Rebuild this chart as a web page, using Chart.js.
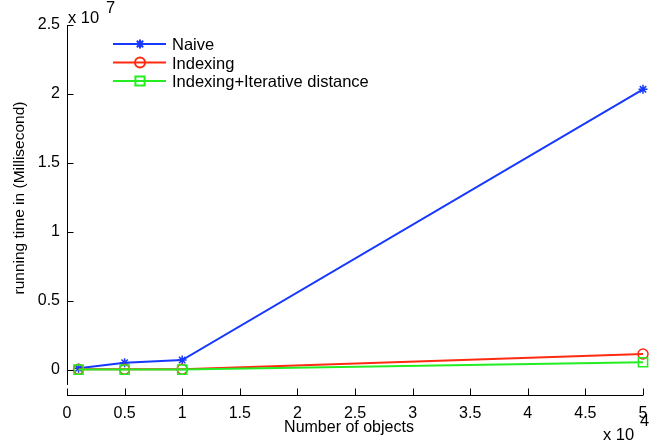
<!DOCTYPE html>
<html lang="en">
<head>
<meta charset="UTF-8">
<title>Running time</title>
<script src="https://cdn.jsdelivr.net/npm/chart.js"></script>
<style>
  body { margin: 0; background: #fff; }
  canvas { display: block; }
</style>
</head>
<body>
<canvas id="graphique" width="651" height="444"></canvas>
<script>
  // number of objects
  const objects = [1000, 5000, 10000, 50000];
  // running time in milliseconds
  const naive = [120000, 530000, 720000, 20340000];
  const indexing = [50000, 50000, 50000, 1160000];
  const indexingIter = [30000, 30000, 30000, 560000];

  const xTicks = [0, 5000, 10000, 15000, 20000, 25000, 30000, 35000, 40000, 45000, 50000];
  const yTicks = [0, 5e6, 1e7, 1.5e7, 2e7, 2.5e7];

  const seriesNames = ['Naive', 'Indexing', 'Indexing+Iterative distance'];
  const colors = ['#1638ff', '#ff2a10', '#22ee22'];
  const markers = ['star', 'circle', 'rect'];
  const radii = [4.5, 5, 6.5];

  const FONT = '"Liberation Sans", Arial, Helvetica, sans-serif';
  Chart.defaults.color = '#000';
  Chart.defaults.font.family = FONT;
  Chart.defaults.font.size = 16;

  const mkData = vals => objects.map((x, i) => ({ x: x, y: vals[i] }));

  // spines, inward ticks, axis titles, exponents and legend
  const axesDeco = {
    id: 'axesDeco',
    afterDraw(chart) {
      const ctx = chart.ctx;
      const xs = chart.scales.x, ys = chart.scales.y;
      const area = chart.chartArea;
      const y0 = ys.getPixelForValue(0);
      ctx.save();
      ctx.strokeStyle = '#000';
      ctx.lineWidth = 1;
      // left spine
      const lx = Math.round(area.left) + 0.5;
      ctx.beginPath();
      ctx.moveTo(lx, ys.getPixelForValue(2.5e7));
      ctx.lineTo(lx, y0 + 15);
      yTicks.forEach(v => {
        const py = Math.round(ys.getPixelForValue(v)) + 0.5;
        ctx.moveTo(lx, py);
        ctx.lineTo(lx + 6, py);
      });
      ctx.stroke();
      // bottom spine
      const by = Math.round(area.bottom) + 0.5;
      ctx.beginPath();
      ctx.moveTo(xs.getPixelForValue(0), by);
      ctx.lineTo(xs.getPixelForValue(50000), by);
      xTicks.forEach(v => {
        const px = Math.round(xs.getPixelForValue(v)) + 0.5;
        ctx.moveTo(px, by);
        ctx.lineTo(px, by - 7);
      });
      ctx.stroke();

      ctx.fillStyle = '#000';
      ctx.textBaseline = 'middle';
      // axis titles
      ctx.textAlign = 'center';
      ctx.font = '16px ' + FONT;
      ctx.fillText('Number of objects', 349, 428);
      ctx.save();
      ctx.translate(20, 198);
      ctx.rotate(-Math.PI / 2);
      ctx.font = '15.5px ' + FONT;
      ctx.fillText('running time in (Millisecond)', 0, 0);
      ctx.restore();
      // exponents
      ctx.font = '16.5px ' + FONT;
      ctx.textAlign = 'left';
      ctx.fillText('x 10', 603, 435);
      ctx.fillText('4', 640, 421);
      ctx.fillText('x 10', 68, 18);
      ctx.fillText('7', 106, 8);

      // legend
      const rows = [44, 62.5, 81];
      seriesNames.forEach((name, i) => {
        ctx.strokeStyle = colors[i];
        ctx.lineWidth = 2;
        ctx.beginPath();
        ctx.moveTo(113, rows[i]);
        ctx.lineTo(166, rows[i]);
        ctx.stroke();
        ctx.fillStyle = 'rgba(0,0,0,0)';
        Chart.helpers.drawPoint(ctx, { pointStyle: markers[i], radius: radii[i], rotation: 0, borderWidth: 1.5 }, 140, rows[i]);
        ctx.fillStyle = '#000';
        ctx.fillText(name, 172, rows[i] + 1.5);
      });
      ctx.restore();
    }
  };

  const datasets = [naive, indexing, indexingIter].map((vals, i) => ({
    label: seriesNames[i],
    data: mkData(vals),
    borderColor: colors[i],
    backgroundColor: 'rgba(0,0,0,0)',
    pointBorderColor: colors[i],
    pointBackgroundColor: 'rgba(0,0,0,0)',
    pointStyle: markers[i],
    pointRadius: radii[i],
    pointBorderWidth: 1.5,
    borderWidth: 2,
    showLine: true,
    tension: 0,
    clip: false,
    order: 2 - i
  }));

  new Chart(document.getElementById('graphique').getContext('2d'), {
    type: 'scatter',
    data: { datasets: datasets },
    options: {
      responsive: false,
      animation: false,
      events: [],
      layout: { padding: { left: 0, right: 8, top: 25, bottom: 0 } },
      plugins: { legend: { display: false }, tooltip: { enabled: false } },
      scales: {
        x: {
          type: 'linear',
          min: 0,
          max: 50000,
          border: { display: false },
          grid: { display: false, drawTicks: false },
          afterBuildTicks: s => { s.ticks = xTicks.map(v => ({ value: v })); },
          afterFit: s => { s.height = 49; s.paddingLeft = 0; s.paddingRight = 0; },
          ticks: {
            padding: 9,
            maxRotation: 0,
            autoSkip: false,
            callback: v => String(v / 1e4)
          }
        },
        y: {
          type: 'linear',
          min: -1.812e6,
          max: 2.5e7,
          border: { display: false },
          grid: { display: false, drawTicks: false },
          afterBuildTicks: s => { s.ticks = yTicks.map(v => ({ value: v })); },
          afterFit: s => { s.width = 67; s.paddingTop = 0; s.paddingBottom = 0; },
          ticks: {
            padding: 7,
            autoSkip: false,
            callback: v => String(v / 1e7)
          }
        }
      }
    },
    plugins: [axesDeco]
  });
</script>
</body>
</html>
